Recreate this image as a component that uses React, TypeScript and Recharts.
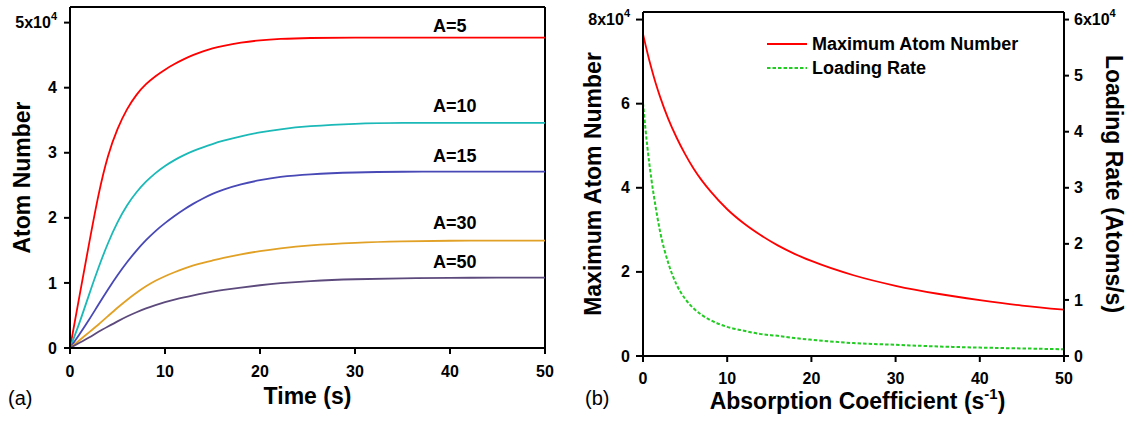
import { LineChart, Line, XAxis, YAxis, ReferenceLine, ReferenceDot, Legend } from "recharts"

// panel (a): loading curves, atom number in units of 1e4
const time = [0, 1, 2, 3, 4, 5, 6, 7, 8, 9, 10, 11, 12, 13, 14, 15, 16, 18, 20, 22, 25, 30, 35, 40, 45, 50]
const atomsA5 = [0, 0.8, 1.6, 2.38, 2.98, 3.38, 3.68, 3.9, 4.06, 4.18, 4.28, 4.365, 4.44, 4.505, 4.56, 4.605, 4.64, 4.695, 4.73, 4.75, 4.765, 4.77, 4.77, 4.77, 4.77, 4.77]
const atomsA10 = [0, 0.38, 0.82, 1.24, 1.62, 1.94, 2.2, 2.4, 2.56, 2.69, 2.8, 2.89, 2.965, 3.03, 3.085, 3.135, 3.18, 3.255, 3.315, 3.36, 3.41, 3.45, 3.46, 3.46, 3.46, 3.46]
const atomsA15 = [0, 0.21, 0.43, 0.67, 0.9, 1.12, 1.32, 1.5, 1.66, 1.8, 1.92, 2.03, 2.13, 2.22, 2.3, 2.37, 2.43, 2.52, 2.58, 2.63, 2.67, 2.7, 2.71, 2.71, 2.71, 2.71]
const atomsA30 = [0, 0.12, 0.24, 0.36, 0.49, 0.62, 0.74, 0.85, 0.95, 1.035, 1.105, 1.165, 1.22, 1.27, 1.31, 1.345, 1.38, 1.44, 1.49, 1.53, 1.58, 1.62, 1.64, 1.65, 1.65, 1.65]
const atomsA50 = [0, 0.08, 0.16, 0.25, 0.33, 0.41, 0.485, 0.55, 0.61, 0.66, 0.705, 0.745, 0.78, 0.81, 0.84, 0.865, 0.89, 0.93, 0.965, 0.995, 1.03, 1.06, 1.07, 1.08, 1.08, 1.08]
const curveNames = ["A=5", "A=10", "A=15", "A=30", "A=50"]
const curveKeys = ["a5", "a10", "a15", "a30", "a50"]
const curveColors = ["#ff0000", "#1bb9b7", "#4848b6", "#e1a126", "#5d4a7d"]
const curveLabelY = [4.95, 3.73, 2.96, 1.92, 1.32]
const timeTicks = [0, 10, 20, 30, 40, 50]
const atomTicks = [0, 1, 2, 3, 4, 5]

// panel (b): vs absorption coefficient
const absorption = [0, 0.5, 1, 1.5, 2, 3, 4, 5, 6, 7, 8, 10, 12, 14, 16, 18, 20, 25, 30, 35, 40, 45, 50]
const maxAtoms = [7.66, 7.23, 6.84, 6.49, 6.18, 5.64, 5.19, 4.8, 4.46, 4.17, 3.92, 3.49, 3.15, 2.87, 2.63, 2.43, 2.26, 1.92, 1.67, 1.48, 1.33, 1.2, 1.1]
const loadingRate = [4.51, 3.75, 3.15, 2.66, 2.24, 1.66, 1.27, 1.02, 0.85, 0.73, 0.64, 0.52, 0.45, 0.39, 0.36, 0.32, 0.29, 0.23, 0.2, 0.17, 0.15, 0.135, 0.12]
const maxTicks = [0, 2, 4, 6, 8]
const rateTicks = [0, 1, 2, 3, 4, 5, 6]
const legendOrder = ["max", "rate"]

const FONT = "'Liberation Sans', Arial, Helvetica, sans-serif"
const RED = "#ff0000"
const GREEN = "#22cc22"
const GREEN_DASH = "3.5 2"

const leftData = time.map((t, i) => ({
  t,
  a5: atomsA5[i],
  a10: atomsA10[i],
  a15: atomsA15[i],
  a30: atomsA30[i],
  a50: atomsA50[i],
}))

const rightData = absorption.map((a, i) => ({ a, max: maxAtoms[i], rate: loadingRate[i] }))

// tick label, the top one gets the "x10^4" exponent
function NumTick(props: any) {
  const { x, y, payload, textAnchor, topValue, vertical, shift = 0 } = props
  const v = payload.value
  return (
    <text
      x={x + shift}
      y={y}
      dy={vertical ? "0.35em" : "0.71em"}
      textAnchor={textAnchor}
      fontFamily={FONT}
      fontWeight="bold"
      fontSize={16}
      fill="#000"
    >
      {v === topValue ? (
        <>
          {`${v}x10`}
          <tspan dy={-8} fontSize={11}>4</tspan>
        </>
      ) : (
        v
      )}
    </text>
  )
}

function SideTitle({ vb, dx, text, angle }: any) {
  const x = (vb?.x ?? 0) + dx
  const y = (vb?.y ?? 0) + (vb?.height ?? 0) / 2
  return (
    <text
      x={x}
      y={y}
      transform={`rotate(${angle} ${x} ${y})`}
      textAnchor="middle"
      dominantBaseline="central"
      fontFamily={FONT}
      fontWeight="bold"
      fontSize={23}
      fill="#000"
    >
      {text}
    </text>
  )
}

function LegendBox({ payload }: any) {
  const items = [...(payload || [])].sort(
    (p: any, q: any) => legendOrder.indexOf(p.dataKey) - legendOrder.indexOf(q.dataKey)
  )
  return (
    <div style={{ fontFamily: FONT, fontWeight: "bold", fontSize: 18, color: "#000" }}>
      {items.map((e: any) => (
        <div key={e.value} style={{ display: "flex", alignItems: "center", height: 24 }}>
          <svg width={45} height={10}>
            <line
              x1={0}
              y1={5}
              x2={40}
              y2={5}
              stroke={e.color}
              strokeWidth={2}
              strokeDasharray={e.dataKey === "rate" ? GREEN_DASH : undefined}
            />
          </svg>
          <span>{e.value}</span>
        </div>
      ))}
    </div>
  )
}

const axisLine = { stroke: "#000", strokeWidth: 2 }

export default function App() {
  return (
    <div style={{ position: "absolute", left: 0, top: 0, width: 1134, height: 421, background: "#fff" }}>
      <div style={{ position: "absolute", left: 0, top: 0 }}>
        <LineChart width={560} height={421} data={leftData} margin={{ top: 7, right: 15, bottom: 0, left: 0 }}>
          <XAxis
            dataKey="t"
            type="number"
            domain={[0, 50]}
            ticks={timeTicks}
            height={73}
            axisLine={axisLine}
            tickLine={axisLine}
            tickSize={6}
            tickMargin={12}
            tick={(p: any) => <NumTick {...p} />}
            label={{
              content: (p: any) => {
                const vb = p.viewBox || { x: 70, y: 348, width: 475 }
                return (
                  <g>
                    <text x={vb.x + vb.width / 2} y={vb.y + 56} textAnchor="middle" fontFamily={FONT} fontWeight="bold" fontSize={23} fill="#000">
                      Time (s)
                    </text>
                    <text x={8} y={405} fontFamily={FONT} fontSize={20} fill="#000">(a)</text>
                  </g>
                )
              },
            }}
          />
          <YAxis
            type="number"
            domain={[0, 5.24]}
            ticks={atomTicks}
            width={70}
            axisLine={axisLine}
            tickLine={axisLine}
            tickSize={6}
            tickMargin={3}
            tick={(p: any) => <NumTick {...p} topValue={5} vertical shift={-4} />}
            label={{ content: (p: any) => <SideTitle vb={p.viewBox} dx={22} angle={-90} text="Atom Number" /> }}
          />
          <ReferenceLine y={5.24} stroke="#000" strokeWidth={2} />
          <ReferenceLine x={50} stroke="#000" strokeWidth={2} />
          {curveKeys.map((k, i) => (
            <Line
              key={k}
              type="basis"
              dataKey={k}
              stroke={curveColors[i]}
              strokeWidth={1.8}
              dot={false}
              isAnimationActive={false}
            />
          ))}
          {curveNames.map((n, i) => (
            <ReferenceDot
              key={n}
              x={38.2}
              y={curveLabelY[i]}
              r={0}
              fill="none"
              stroke="none"
              label={{
                value: n,
                position: "right",
                offset: 0,
                fontFamily: FONT,
                fontWeight: "bold",
                fontSize: 18,
                fill: "#000",
              }}
            />
          ))}
        </LineChart>
      </div>

      <div style={{ position: "absolute", left: 560, top: 0 }}>
        <LineChart width={574} height={421} data={rightData} margin={{ top: 12, right: 0, bottom: 0, left: 0 }}>
          <XAxis
            dataKey="a"
            type="number"
            domain={[0, 50]}
            ticks={timeTicks}
            height={65}
            axisLine={axisLine}
            tickLine={axisLine}
            tickSize={6}
            tickMargin={11}
            tick={(p: any) => <NumTick {...p} />}
            label={{
              content: (p: any) => {
                const vb = p.viewBox || { x: 83, y: 356, width: 421 }
                return (
                  <g>
                    <text x={vb.x + vb.width / 2 + 4} y={vb.y + 53} textAnchor="middle" fontFamily={FONT} fontWeight="bold" fontSize={23} fill="#000">
                      Absorption Coefficient (s
                      <tspan dy={-10} fontSize={15}>-1</tspan>
                      <tspan dy={10}>)</tspan>
                    </text>
                    <text x={25} y={405} fontFamily={FONT} fontSize={20} fill="#000">(b)</text>
                  </g>
                )
              },
            }}
          />
          <YAxis
            yAxisId="n"
            type="number"
            domain={[0, 8.18]}
            ticks={maxTicks}
            width={83}
            axisLine={axisLine}
            tickLine={axisLine}
            tickSize={7}
            tickMargin={4}
            tick={(p: any) => <NumTick {...p} topValue={8} vertical shift={-2} />}
            label={{ content: (p: any) => <SideTitle vb={p.viewBox} dx={33} angle={-90} text="Maximum Atom Number" /> }}
          />
          <YAxis
            yAxisId="r"
            orientation="right"
            type="number"
            domain={[0, 6.135]}
            ticks={rateTicks}
            width={70}
            axisLine={axisLine}
            tickLine={axisLine}
            tickSize={5}
            tickMargin={5}
            tick={(p: any) => <NumTick {...p} topValue={6} vertical />}
            label={{ content: (p: any) => <SideTitle vb={p.viewBox} dx={50} angle={90} text="Loading Rate (Atoms/s)" /> }}
          />
          <ReferenceLine yAxisId="n" y={8.18} stroke="#000" strokeWidth={2} />
          <Legend
            layout="vertical"
            align="center"
            verticalAlign="middle"
            wrapperStyle={{ left: 207, top: 32, width: "auto" }}
            content={(p: any) => <LegendBox payload={p.payload} />}
          />
          <Line
            yAxisId="n"
            type="monotone"
            dataKey="max"
            name="Maximum Atom Number"
            stroke={RED}
            strokeWidth={1.8}
            dot={false}
            isAnimationActive={false}
          />
          <Line
            yAxisId="r"
            type="monotone"
            dataKey="rate"
            name="Loading Rate"
            stroke={GREEN}
            strokeWidth={2}
            strokeDasharray={GREEN_DASH}
            dot={false}
            isAnimationActive={false}
          />
        </LineChart>
      </div>
    </div>
  )
}
